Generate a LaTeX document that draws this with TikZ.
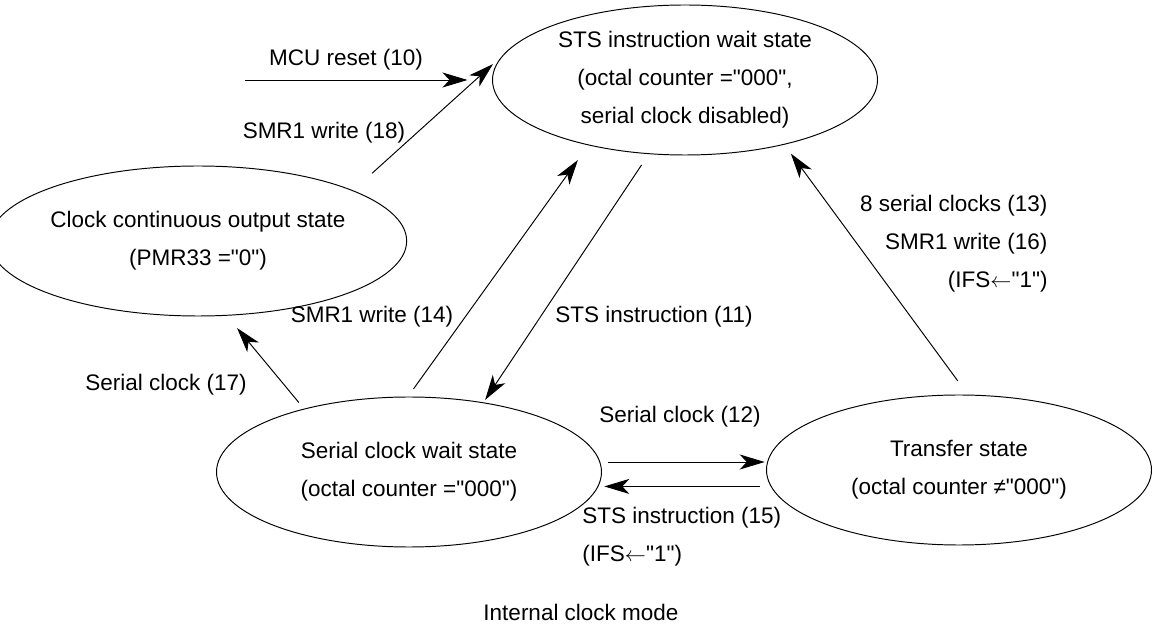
\documentclass[tikz,border=0pt]{standalone}
\usepackage{fontspec}
\setmainfont{Liberation Sans}[Ligatures=TeXOff]
\usetikzlibrary{shapes.geometric, arrows.meta}
\begin{document}
\begin{tikzpicture}[font=\fontsize{12.8pt}{21.6pt}\selectfont, line width=0.55pt, >={Stealth[length=0.5cm, width=0.3cm, inset=0.14cm]},
	state/.style={ellipse, draw, minimum width=7.7cm, minimum height=3cm, inner sep=0pt, outer sep=0pt, align=center}]
	\useasboundingbox (0,0) rectangle (23.2,-12.48);
	% states
	\node[state] (sts) at (13.7,-1.6) {STS instruction wait state\\(octal counter ="000",\\serial clock disabled)};
	\node[state] (clk) at (3.96,-4.82) {Clock continuous output state\\(PMR33 ="0")};
	\node[state] (scw) at (8.18,-9.44) {Serial clock wait state\\(octal counter ="000")};
	\node[state] (xfer) at (19.18,-9.4) {Transfer state\\(octal counter ≠"000")};
	\coordinate (rst) at (4.9,-1.6);
	% transitions
	\draw[->, shorten >=0.5cm] (rst) -- (sts.west);
	\draw[->, shorten <=0.52cm, shorten >=0.37cm] (clk.18) -- (sts.171);
	\draw[->, shorten <=0.2cm, shorten >=0.37cm] (scw.91.4) -- (sts.214.1);
	\draw[->, shorten <=0.27cm, shorten >=0.07cm] (sts.244.4) -- (scw.43);
	\draw[->, shorten <=0.35cm, shorten >=0.23cm] (xfer.83.8) -- (sts.327.8);
	\draw[->, shorten <=0.17cm, shorten >=0.33cm] (scw.149.7) -- (clk.291.5);
	\draw[->, shorten <=0.16cm, shorten >=0.07cm] (scw.3.3) -- (scw.3.3 -| xfer.177.3);
	\draw[->, shorten <=0.23cm, shorten >=0.15cm] (xfer.185.5) -- (xfer.185.5 -| scw.355.2);
	% labels
	\node (l10) at (6.92,-1.2) {MCU reset (10)};
	\node (l18) at (6.48,-2.66) {SMR1 write (18)};
	\node (l14) at (7.44,-6.34) {SMR1 write (14)};
	\node (l11) at (13.08,-6.34) {STS instruction (11)};
	\node (l12) at (13.6,-8.34) {Serial clock (12)};
	\node[anchor=west, align=left, inner sep=0pt] (l15) at (11.64,-10.73) {STS instruction (15)\\(IFS$\leftarrow$"1")};
	\node[anchor=east, align=right, inner sep=0pt] (l13) at (20.96,-4.88) {8 serial clocks (13)\\SMR1 write (16)\\(IFS$\leftarrow$"1")};
	\node (l17) at (3.32,-7.7) {Serial clock (17)};
	\node (mode) at (11.62,-12.24) {Internal clock mode};
\end{tikzpicture}
\end{document}
